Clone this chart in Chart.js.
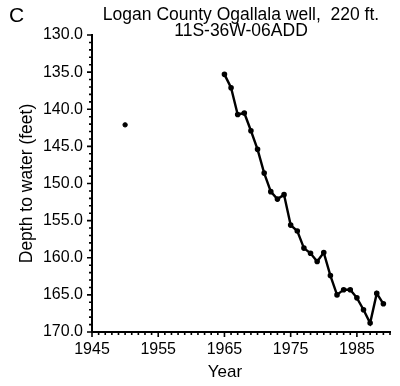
<!DOCTYPE html>
<html><head><meta charset="utf-8">
<script src="https://cdn.jsdelivr.net/npm/chart.js@4/dist/chart.umd.min.js"></script>
<style>html,body{margin:0;padding:0;background:#fff}#wrap{width:400px;height:386px}</style>
</head><body><div id="wrap"><canvas id="c" width="400" height="386"></canvas></div>
<script>
// ---- data ----
const years  = [1965,1966,1967,1968,1969,1970,1971,1972,1973,1974,1975,1976,1977,1978,1979,1980,1981,1982,1983,1984,1985,1986,1987,1988,1989];
const depths = [135.3,137.1,140.7,140.5,142.9,145.4,148.6,151.1,152.1,151.5,155.6,156.4,158.7,159.4,160.5,159.3,162.4,165.0,164.3,164.3,165.4,167.0,168.8,164.8,166.2];
const isolatedYears  = [1950];
const isolatedDepths = [142.1];
const xTickLabels = ['1945','1955','1965','1975','1985'];
const yTickLabels = ['130.0','135.0','140.0','145.0','150.0','155.0','160.0','165.0','170.0'];
const titleLines = ['Logan County Ogallala well,  220 ft.', '11S-36W-06ADD'];
const panelLetter = 'C';
const xAxisTitle = 'Year';
const yAxisTitle = 'Depth to water (feet)';

const FONT = "'Liberation Sans', Arial, Helvetica, sans-serif";

const lineData = years.map((y, i) => ({x: y, y: depths[i]}));
const isoData = isolatedYears.map((y, i) => ({x: y, y: isolatedDepths[i]}));

const tickPlugin = {
  id: 'ticksAndTitles',
  afterDraw(chart) {
    const ctx = chart.ctx;
    const xs = chart.scales.x, ys = chart.scales.y;
    ctx.save();
    ctx.strokeStyle = '#000';
    ctx.lineWidth = 1.6;
    ctx.beginPath();
    xs.ticks.forEach(t => {
      const px = xs.getPixelForValue(t.value);
      const major = xTickLabels.includes(String(t.value));
      const len = major ? 5 : 3;
      ctx.moveTo(px, xs.top); ctx.lineTo(px, xs.top + len);
    });
    ys.ticks.forEach(t => {
      const py = ys.getPixelForValue(t.value);
      const major = yTickLabels.includes(Number(t.value).toFixed(1));
      const len = major ? 5 : 3;
      ctx.moveTo(ys.right, py); ctx.lineTo(ys.right - len, py);
    });
    ctx.stroke();
    // title
    ctx.fillStyle = '#000';
    ctx.textAlign = 'center';
    ctx.textBaseline = 'middle';
    ctx.font = "17.5px " + FONT;
    const cx = (chart.chartArea.left + chart.chartArea.right) / 2;
    ctx.fillText(titleLines[0], cx, 15);
    ctx.fillText(titleLines[1], cx, 31);
    // x axis title (sits left of the plot centre in the reference)
    ctx.font = "17px " + FONT;
    ctx.fillText(xAxisTitle, 225, 372);
    ctx.textAlign = 'left';
    ctx.font = "21px " + FONT;
    ctx.fillText(panelLetter, 9, 16);
    ctx.restore();
  }
};

new Chart(document.getElementById('c'), {
  type: 'scatter',
  data: {
    datasets: [
      {
        data: lineData,
        showLine: true,
        borderColor: '#000',
        backgroundColor: '#000',
        borderWidth: 2.4,
        pointRadius: 1.6,
        pointHoverRadius: 1.6,
        tension: 0
      },
      {
        data: isoData,
        showLine: false,
        borderColor: '#000',
        backgroundColor: '#000',
        pointRadius: 2.2
      }
    ]
  },
  options: {
    responsive: false,
    devicePixelRatio: 1,
    animation: false,
    layout: { padding: { left: 0, top: 35, right: 10, bottom: 0 } },
    plugins: { legend: { display: false }, tooltip: { enabled: false }, title: { display: false } },
    scales: {
      x: {
        type: 'linear',
        min: 1945, max: 1990,
        grid: { display: true, drawOnChartArea: false, drawTicks: false },
        border: { display: true, color: '#000', width: 2 },
        ticks: {
          stepSize: 1, autoSkip: false, maxRotation: 0, padding: 8,
          color: '#000', font: { family: FONT, size: 16 },
          callback: v => xTickLabels.includes(String(v)) ? String(v) : ''
        },
        title: { display: false },
        afterFit: s => { s.height = 54; }
      },
      y: {
        type: 'linear',
        reverse: true,
        min: 130, max: 170,
        grid: { display: true, drawOnChartArea: false, drawTicks: false },
        border: { display: true, color: '#000', width: 2 },
        ticks: {
          stepSize: 1, autoSkip: false, padding: 9,
          color: '#000', font: { family: FONT, size: 16 },
          callback: v => { const s = Number(v).toFixed(1); return yTickLabels.includes(s) ? s : ''; }
        },
        title: { display: true, text: yAxisTitle, color: '#000', font: { family: FONT, size: 17.5 }, padding: { top: 17, bottom: 0 } },
        afterFit: s => { s.width = 92; }
      }
    }
  },
  plugins: [tickPlugin]
});
</script>
</body></html>
